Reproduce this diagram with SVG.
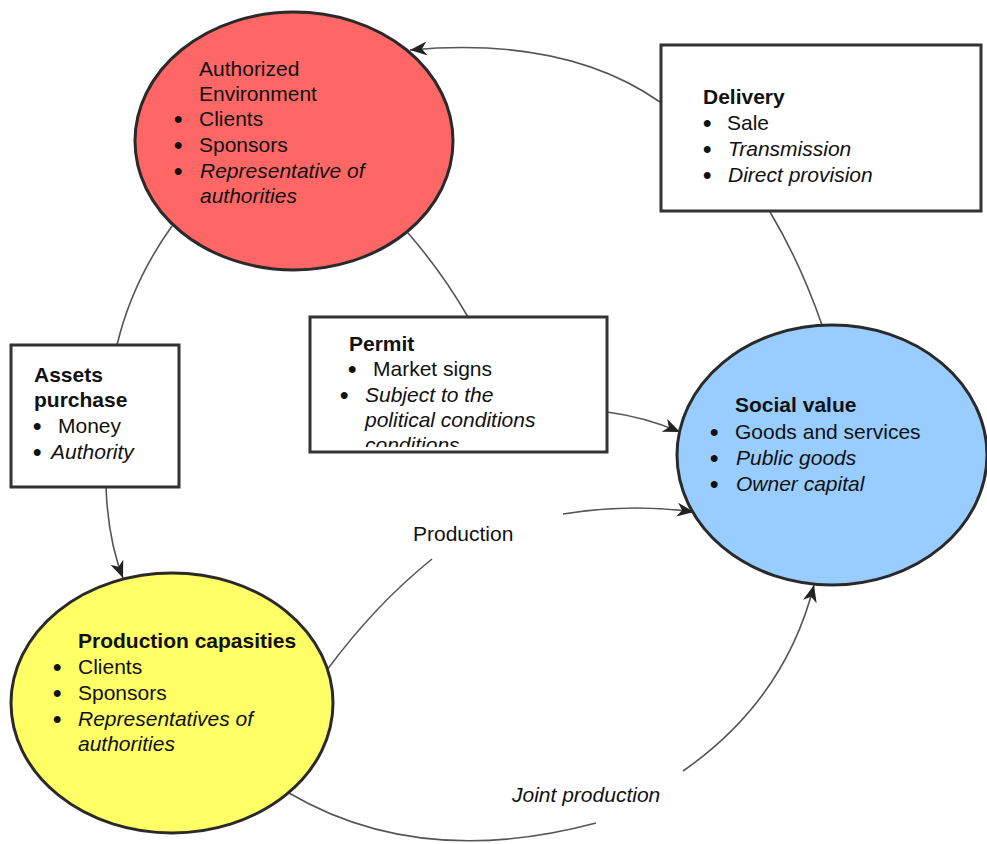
<svg xmlns="http://www.w3.org/2000/svg" width="987" height="844" viewBox="0 0 987 844">
<style>
text{font-family:"Liberation Sans",Arial,sans-serif;font-size:21px;fill:#111}
.b{font-weight:bold}
.i{font-style:italic}
.u{font-size:24px;font-weight:bold}
.box{fill:#fff;stroke:#333;stroke-width:3}
.ell{stroke:#2a2a2a;stroke-width:3}
.con{fill:none;stroke:#555;stroke-width:1.6}
</style>
<defs>
<marker id="arr" markerUnits="userSpaceOnUse" markerWidth="18" markerHeight="14" refX="17" refY="7" orient="auto">
<path d="M0,0 L17,7 L0,14 L5,7 z" fill="#222"/>
</marker>
<clipPath id="permitClip"><rect x="311" y="319" width="294" height="128"/></clipPath>
</defs>
<rect width="987" height="844" fill="#fff"/>
<g id="connectors">
<path class="con" d="M660,102 C600,60 520,40 410,50" marker-end="url(#arr)"/>
<path class="con" d="M770,212 Q800,262 822,325"/>
<path class="con" d="M172,226 Q132,282 117,345"/>
<path class="con" d="M106,487 Q108,540 123,578" marker-end="url(#arr)"/>
<path class="con" d="M408,233 Q442,272 468,317"/>
<path class="con" d="M607,412 Q645,417 680,432" marker-end="url(#arr)"/>
<path class="con" d="M327,670 Q375,605 432,559"/>
<path class="con" d="M563,514 Q630,503 694,512" marker-end="url(#arr)"/>
<path class="con" d="M289,793 Q420,870 596,823"/>
<path class="con" d="M683,771 Q785,700 814,585" marker-end="url(#arr)"/>
<text x="413" y="541">Production</text>
<text class="i" x="512" y="802">Joint production</text>
</g>
<g id="authorized-environment">
<ellipse class="ell" cx="294" cy="141" rx="159" ry="129" fill="#FF6666"/>
<text x="199" y="76">Authorized</text>
<text x="199" y="101">Environment</text>
<text class="u" x="174" y="127">•</text><text x="199" y="126">Clients</text>
<text class="u" x="174" y="153">•</text><text x="199" y="152">Sponsors</text>
<text class="u" x="174" y="179">•</text><text class="i" x="200" y="178">Representative of</text>
<text class="i" x="200" y="203">authorities</text>
</g>
<g id="delivery">
<rect class="box" x="661" y="45" width="320" height="166"/>
<text class="b" x="703" y="104">Delivery</text>
<text class="u" x="703" y="131">•</text><text x="727" y="130">Sale</text>
<text class="u" x="703" y="157">•</text><text class="i" x="728" y="156">Transmission</text>
<text class="u" x="703" y="183">•</text><text class="i" x="728" y="182">Direct provision</text>
</g>
<g id="permit">
<rect class="box" x="310" y="317" width="297" height="135"/>
<g clip-path="url(#permitClip)">
<text class="b" x="349" y="351">Permit</text>
<text class="u" x="348" y="377">•</text><text x="373" y="376">Market signs</text>
<text class="u" x="340" y="403">•</text><text class="i" x="365" y="402">Subject to the</text>
<text class="i" x="365" y="427">political conditions</text>
<text class="i" x="365" y="452">conditions</text>
</g>
</g>
<g id="assets-purchase">
<rect class="box" x="11" y="345" width="168" height="142"/>
<text class="b" x="34" y="382">Assets</text>
<text class="b" x="34" y="407">purchase</text>
<text class="u" x="33" y="434">•</text><text x="58" y="433">Money</text>
<text class="u" x="33" y="460">•</text><text class="i" x="51" y="459">Authority</text>
</g>
<g id="social-value">
<ellipse class="ell" cx="832" cy="455" rx="155" ry="130" fill="#99CCFF"/>
<text class="b" x="735" y="412">Social value</text>
<text class="u" x="710" y="440">•</text><text x="735" y="439">Goods and services</text>
<text class="u" x="710" y="466">•</text><text class="i" x="736" y="465">Public goods</text>
<text class="u" x="710" y="492">•</text><text class="i" x="736" y="491">Owner capital</text>
</g>
<g id="production-capasities">
<ellipse class="ell" cx="172" cy="703" rx="161" ry="130" fill="#FFFF66"/>
<text class="b" x="78" y="648">Production capasities</text>
<text class="u" x="53" y="675">•</text><text x="78" y="674">Clients</text>
<text class="u" x="53" y="701">•</text><text x="78" y="700">Sponsors</text>
<text class="u" x="53" y="727">•</text><text class="i" x="78" y="726">Representatives of</text>
<text class="i" x="78" y="751">authorities</text>
</g>
</svg>
